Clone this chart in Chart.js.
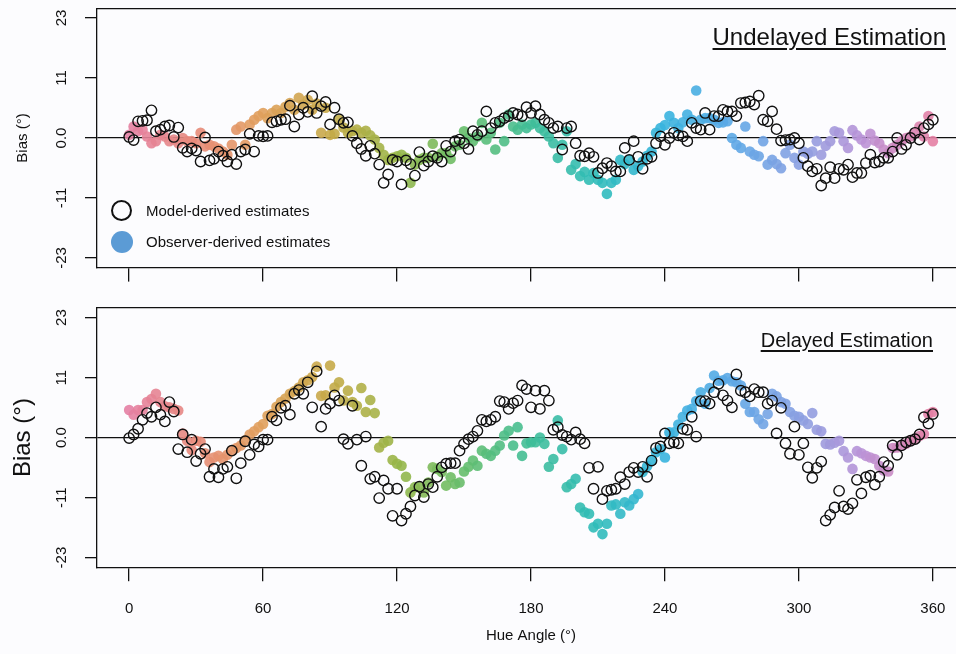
<!DOCTYPE html>
<html>
<head>
<meta charset="utf-8">
<script src="https://cdn.jsdelivr.net/npm/chart.js@4.4.0/dist/chart.umd.min.js"></script>
<style>
  body { margin: 0; width: 956px; height: 654px; overflow: hidden; background: #fcfcfe; position: relative; font-family: "Liberation Sans", Arial, sans-serif; color: #111; }
  canvas { position: absolute; left: 0; }
  #top { top: 0; }
  #bottom { top: 290px; }
  .title { position: absolute; line-height: 26px; text-decoration: underline; text-underline-offset: 3px; white-space: nowrap; }
  #t1 { right: 10px; top: 24px; font-size: 24px; }
  #t2 { right: 23px; top: 327px; font-size: 20px; }
  .legend { position: absolute; left: 111px; top: 195px; font-size: 15px; }
  .legend div { height: 31px; display: flex; align-items: center; }
  .open { width: 17px; height: 17px; border: 2.5px solid #111; border-radius: 50%; margin-right: 14px; }
  .fill { width: 22px; height: 22px; background: #5b9bd5; border-radius: 50%; margin-right: 13px; }
</style>
</head>
<body>
<canvas id="top" width="980" height="295"></canvas>
<canvas id="bottom" width="980" height="364"></canvas>
<div class="title" id="t1">Undelayed Estimation</div>
<div class="title" id="t2">Delayed Estimation</div>
<div class="legend">
  <div><span class="open"></span>Model-derived estimates</div>
  <div><span class="fill"></span>Observer-derived estimates</div>
</div>
<script>
const hueAngles = [
  0, 2, 4, 6, 8, 10, 12, 14, 16, 18,
  20, 22, 24, 26, 28, 30, 32, 34, 36, 38,
  40, 42, 44, 46, 48, 50, 52, 54, 56, 58,
  60, 62, 64, 66, 68, 70, 72, 74, 76, 78,
  80, 82, 84, 86, 88, 90, 92, 94, 96, 98,
  100, 102, 104, 106, 108, 110, 112, 114, 116, 118,
  120, 122, 124, 126, 128, 130, 132, 134, 136, 138,
  140, 142, 144, 146, 148, 150, 152, 154, 156, 158,
  160, 162, 164, 166, 168, 170, 172, 174, 176, 178,
  180, 182, 184, 186, 188, 190, 192, 194, 196, 198,
  200, 202, 204, 206, 208, 210, 212, 214, 216, 218,
  220, 222, 224, 226, 228, 230, 232, 234, 236, 238,
  240, 242, 244, 246, 248, 250, 252, 254, 256, 258,
  260, 262, 264, 266, 268, 270, 272, 274, 276, 278,
  280, 282, 284, 286, 288, 290, 292, 294, 296, 298,
  300, 302, 304, 306, 308, 310, 312, 314, 316, 318,
  320, 322, 324, 326, 328, 330, 332, 334, 336, 338,
  340, 342, 344, 346, 348, 350, 352, 354, 356, 358,
  360
];
const xTickValues = [0, 60, 120, 180, 240, 300, 360];
const yTickValues = [-23, -11.5, 0, 11.5, 23];
const yTickLabels = ["-23", "-11", "0.0", "11", "23"];

const undelayedModel = [
  0.2, -0.4, 3.2, 3.3, 3.4, 5.3, 1.3, 1.6, 2.2, 2.4,
  0.2, 2.0, -1.9, -2.6, -2.0, -2.4, -4.5, 0.1, -4.3, -4.0,
  -2.6, -3.4, -4.5, -3.2, -5.0, -2.6, -2.2, 0.8, -2.6, 0.4,
  0.3, 0.4, 3.0, 3.2, 3.5, 3.6, 6.2, 2.2, 4.5, 5.8,
  5.0, 8.0, 4.8, 6.1, 6.9, 2.6, 5.8, 3.6, 2.9, 3.0,
  0.4, -1.0, -2.1, -3.4, -1.5, -3.0, -5.1, -8.6, -7.0, -4.2,
  -4.5, -8.9, -4.3, -5.0, -7.2, -2.7, -5.3, -4.5, -3.5, -3.8,
  -4.5, -1.5, -2.6, -0.6, -0.3, -1.0, -2.1, 1.3, 0.6, 1.3,
  5.1, 1.9, 2.9, 3.2, 3.8, 4.2, 4.8, 4.5, 4.2, 5.9,
  4.8, 6.1, 4.5, 3.5, 2.9, 1.9, 2.2, -2.2, 1.9, 2.2,
  -1.0, -3.4, -3.5, -2.9, -3.6, -6.7, -5.8, -4.8, -5.4, -6.4,
  -6.4, -1.9, -4.2, -0.6, -3.6, -5.9, -4.0, -3.6, -1.0, 0.3,
  -1.3, 0.0, 1.0, 0.5, 0.3, -0.6, 2.9, 1.9, 1.6, 4.8,
  1.6, 4.2, 4.2, 5.4, 5.1, 5.1, 4.2, 6.7, 6.8, 7.0,
  6.4, 8.1, 3.5, 3.2, 5.1, 1.7, -0.5, -0.4, -0.3, 0.0,
  -1.0, -3.8, -5.4, -6.4, -5.9, -9.1, -7.7, -5.6, -7.7, -5.9,
  -6.1, -5.1, -7.5, -6.7, -6.7, -4.8, -3.2, -4.7, -4.5, -3.8,
  -3.8, -2.6, 0.0, -2.1, -1.3, 0.0, 1.0, -0.3, 1.9, 2.6,
  3.5
];
const undelayedObserver = [
  0.6, 2.2, 1.3, 1.6, 0.3, -1.0, -0.6, 0.6, 0.3, -0.6,
  -0.3, -1.0, 0.0, -0.6, -0.6, -1.0, 1.0, -1.6, -1.3, -1.6,
  -2.0, -2.6, -3.2, -1.3, 1.6, 2.2, -1.3, 2.6, 3.5, 4.2,
  4.8, 3.8, 4.8, 5.4, 4.8, 6.0, 6.7, 5.4, 7.7, 6.4,
  7.3, 5.4, 6.6, 1.0, 5.8, 0.6, 0.8, 3.5, 2.0, 1.0,
  1.3, 1.6, 1.0, 1.4, 0.5, -0.3, -1.9, -3.2, -4.2, -3.8,
  -3.5, -3.2, -3.8, -8.6, -5.1, -4.2, -3.8, -3.8, -1.1, -3.5,
  -2.9, -2.9, -4.0, -1.6, -1.3, 1.3, 0.0, -0.6, 0.3, 2.9,
  -0.3, 1.0, -2.2, 2.9, -0.6, 4.5, 2.2, 1.6, 2.6, 1.9,
  2.6, 2.9, 1.9, 1.3, 0.3, -1.0, -3.8, -1.3, 1.3, -6.1,
  -5.0, -7.3, -6.5, -8.0, -6.7, -8.0, -8.6, -10.7, -8.6, -8.0,
  -4.2, -5.0, -4.2, -6.1, -5.4, -4.5, -3.4, -2.6, 1.0, 1.9,
  2.5, 4.2, 2.9, 1.9, 3.0, 4.5, 3.5, 9.1, 3.5, 3.8,
  3.8, 3.5, 2.9, 3.0, 3.2, 0.0, -1.3, -1.9, 2.2, -2.6,
  -3.2, -3.5, -0.6, -5.1, -4.2, -5.0, -5.8, -2.9, -1.3, -3.8,
  -5.1, -2.6, -3.0, -2.6, -0.6, -3.2, -1.5, -0.6, 1.3, 1.0,
  -0.6, -1.9, 1.5, 0.5, -0.3, -1.0, 0.8, -0.5, -1.0, -2.2,
  -2.9, -1.9, -1.3, -0.6, 0.0, 0.3, 1.0, 2.2, 0.3, 4.2,
  -0.6
];
const delayedModel = [
  -0.1, 0.6, 1.7, 3.4, 4.7, 4.0, 5.8, 4.4, 3.1, 6.8,
  5.0, -2.2, 0.6, -2.8, -0.4, -4.5, -3.1, -2.2, -7.5, -6.0,
  -7.6, -6.0, -5.6, -2.5, -7.8, -4.9, -0.7, -3.3, -1.3, -1.7,
  -0.4, -0.4, 4.0, 3.3, 5.7, 6.1, 4.4, 8.4, 9.1, 8.4,
  10.6, 5.8, 12.7, 2.1, 5.5, 6.5, 8.1, 7.1, -0.3, -1.2,
  6.1, -0.4, -5.4, 0.2, -7.9, -7.5, -11.6, -8.2, -9.8, -15.0,
  -9.8, -15.9, -14.6, -13.2, -11.1, -9.4, -11.4, -8.9, -9.5, -7.5,
  -5.7, -5.0, -4.9, -4.9, -2.5, -1.2, -0.3, 0.2, 1.3, 3.4,
  3.1, 3.4, 4.0, 7.0, 6.8, 5.5, 6.6, 7.1, 10.0, 9.3,
  5.8, 9.0, 5.5, 9.0, 7.1, 1.5, 2.0, 0.5, 0.2, -0.4,
  1.0, -0.3, -1.1, -5.8, -9.8, -5.6, -11.8, -10.2, -10.0, -9.8,
  -7.6, -8.9, -6.6, -5.8, -6.6, -5.6, -7.5, -4.4, -2.0, -1.7,
  0.8, -1.1, -0.9, -1.1, 1.7, 1.5, 4.0, 0.2, 7.0, 7.0,
  6.5, 8.7, 10.3, 8.1, 7.1, 5.8, 12.1, 9.0, 8.7, 7.9,
  9.3, 8.7, 8.7, 6.5, 7.1, 0.8, 5.7, -1.1, -3.1, 2.1,
  -3.3, -1.1, -5.7, -7.7, -5.8, -4.6, -15.9, -14.8, -13.4, -10.2,
  -13.2, -13.7, -12.6, -8.1, -10.7, -7.6, -7.3, -9.0, -7.5, -4.7,
  -5.4, -1.5, -3.3, -1.5, -0.9, -0.6, -0.3, 0.6, 3.9, 2.7,
  4.5
];
const delayedObserver = [
  5.3, 4.4, 5.3, 5.3, 6.8, 7.4, 8.4, 6.8, 6.0, 5.8,
  5.5, 5.2, 0.8, -0.6, -2.4, -0.6, -0.8, -3.0, -4.7, -3.8,
  -3.5, -4.1, -3.3, -2.5, -2.0, -1.5, -0.5, 0.6, 1.2, 2.0,
  2.6, 4.2, 4.5, 5.9, 6.8, 7.5, 8.4, 8.9, 9.6, 10.6,
  11.0, 11.6, 13.6, 8.0, 8.1, 13.8, 9.6, 10.6, 7.1, 9.0,
  6.8, 6.1, 9.5, 4.9, 7.2, 4.7, -1.9, -1.0, -0.6, -4.3,
  -5.0, -5.4, -7.5, -10.5, -9.5, -9.5, -10.5, -8.6, -5.7, -6.0,
  -6.6, -9.2, -7.6, -8.9, -8.6, -6.5, -5.6, -4.4, -5.4, -2.5,
  -3.1, -3.5, -2.5, -1.5, 0.4, 1.3, -1.5, 2.0, -3.5, -1.1,
  -0.9, -0.9, 0.0, -1.2, -5.6, -4.1, 3.3, -2.2, -9.5, -8.9,
  -7.9, -13.4, -14.3, -14.6, -17.2, -16.5, -18.5, -16.5, -13.0, -12.8,
  -14.6, -12.4, -13.0, -11.8, -10.8, -6.6, -5.5, -4.4, -2.8, -2.2,
  -3.8, 1.0, 1.0, 2.5, 4.0, 5.2, 5.5, 7.0, 8.7, 6.5,
  9.5, 11.9, 10.9, 11.0, 11.4, 10.8, 10.6, 10.0, 6.5, 4.9,
  4.9, 3.5, 2.6, 4.5, 8.4, 7.9, 6.8, 6.5, 4.9, 4.2,
  4.0, 3.3, 2.6, 4.7, 1.5, 1.2, -1.2, -1.3, -1.0, -0.6,
  -2.6, -3.8, -6.0, -2.6, -3.0, -3.5, -3.8, -4.1, -5.4, -6.3,
  -6.5, -2.0, -1.9, -1.5, -1.2, -0.6, -0.3, 0.3, 0.7, 4.5,
  4.9
];

// colour wheel used for the observer dots, one stop every 30 degrees
const hueStops = [
  [228, 128, 164], [232, 138, 122], [224, 160, 92], [198, 170, 72],
  [152, 182, 72], [102, 190, 108], [64, 190, 152], [48, 188, 186],
  [56, 180, 222], [92, 168, 230], [138, 160, 226], [188, 146, 214],
  [228, 128, 164]
];
function hueColor(a) {
  const i = Math.min(Math.floor(a / 30), 11);
  const t = (a - i * 30) / 30;
  const c0 = hueStops[i], c1 = hueStops[i + 1];
  const c = c0.map((v, k) => Math.round(v + (c1[k] - v) * t));
  return "rgba(" + c[0] + "," + c[1] + "," + c[2] + ",0.9)";
}

function toPoints(vals) {
  return hueAngles.map((a, i) => ({ x: a, y: vals[i] }));
}

const font = "'Liberation Sans', Arial, sans-serif";
const ink = "#111";

function noPad(s) {
  s.paddingTop = 0;
  s.paddingBottom = 0;
  s.paddingLeft = 0;
  s.paddingRight = 0;
}

function makePanel(id, model, observer, cfg) {
  new Chart(document.getElementById(id), {
    type: "scatter",
    data: {
      datasets: [
        {
          label: "Model-derived estimates",
          data: toPoints(model),
          pointRadius: 5.2,
          pointHoverRadius: 5.2,
          borderWidth: 1.4,
          borderColor: ink,
          backgroundColor: "rgba(0,0,0,0)",
        },
        {
          label: "Observer-derived estimates",
          data: toPoints(observer),
          pointRadius: 5.3,
          pointHoverRadius: 5.3,
          borderWidth: 0,
          backgroundColor: (c) => hueColor(c.raw ? c.raw.x : 0),
        },
      ],
    },
    options: {
      responsive: false,
      animation: false,
      devicePixelRatio: 1,
      layout: { autoPadding: false, padding: { left: 0, right: 15, top: 0, bottom: 0 } },
      plugins: { legend: { display: false }, tooltip: { enabled: false } },
      scales: {
        x: {
          type: "linear",
          position: "bottom",
          min: -14.4,
          max: 374.4,
          afterBuildTicks: (s) => { s.ticks = xTickValues.map((v) => ({ value: v })); },
          afterFit: (s) => { s.height = cfg.xHeight; noPad(s); },
          ticks: { display: cfg.showX, autoSkip: false, maxRotation: 0, padding: 19, color: ink, font: { family: font, size: 15 } },
          grid: { drawOnChartArea: false, tickLength: 14, color: ink, tickColor: ink, lineWidth: 1.3 },
          border: { display: true, color: ink, width: 1.3 },
          title: { display: cfg.showX, text: "Hue Angle (°)", color: ink, font: { family: font, size: 15 }, padding: { top: 0, bottom: 9 } },
        },
        x2: {
          type: "linear",
          position: "top",
          min: -14.4,
          max: 374.4,
          afterFit: (s) => { s.height = cfg.topGap; noPad(s); },
          ticks: { display: false },
          grid: { display: false },
          border: { display: true, color: ink, width: 1.3 },
        },
        y: {
          min: -24.84,
          max: 24.84,
          afterFit: (s) => { s.width = 97; noPad(s); },
          afterBuildTicks: (s) => { s.ticks = yTickValues.map((v) => ({ value: v })); },
          ticks: {
            autoSkip: false,
            minRotation: 90,
            maxRotation: 90,
            crossAlign: "center",
            padding: 12,
            color: ink,
            font: { family: font, size: 15 },
            callback: (v, i) => yTickLabels[i],
          },
          grid: {
            color: (c) => (c.tick && c.tick.value === 0 ? ink : "rgba(0,0,0,0)"),
            tickColor: ink,
            tickLength: 12,
            lineWidth: 1.3,
          },
          border: { display: true, color: ink, width: 1.3 },
          title: { display: true, text: "Bias (°)", color: ink, font: { family: font, size: cfg.yTitleSize }, padding: { top: cfg.yTitlePad, bottom: 0 } },
        },
      },
    },
  });
}

makePanel("top", undelayedModel, undelayedObserver, {
  showX: false, xHeight: 27.4, topGap: 8.4, yTitleSize: 15, yTitlePad: 14,
});
makePanel("bottom", delayedModel, delayedObserver, {
  showX: true, xHeight: 86.8, topGap: 18, yTitleSize: 24, yTitlePad: 9,
});
</script>
</body>
</html>
